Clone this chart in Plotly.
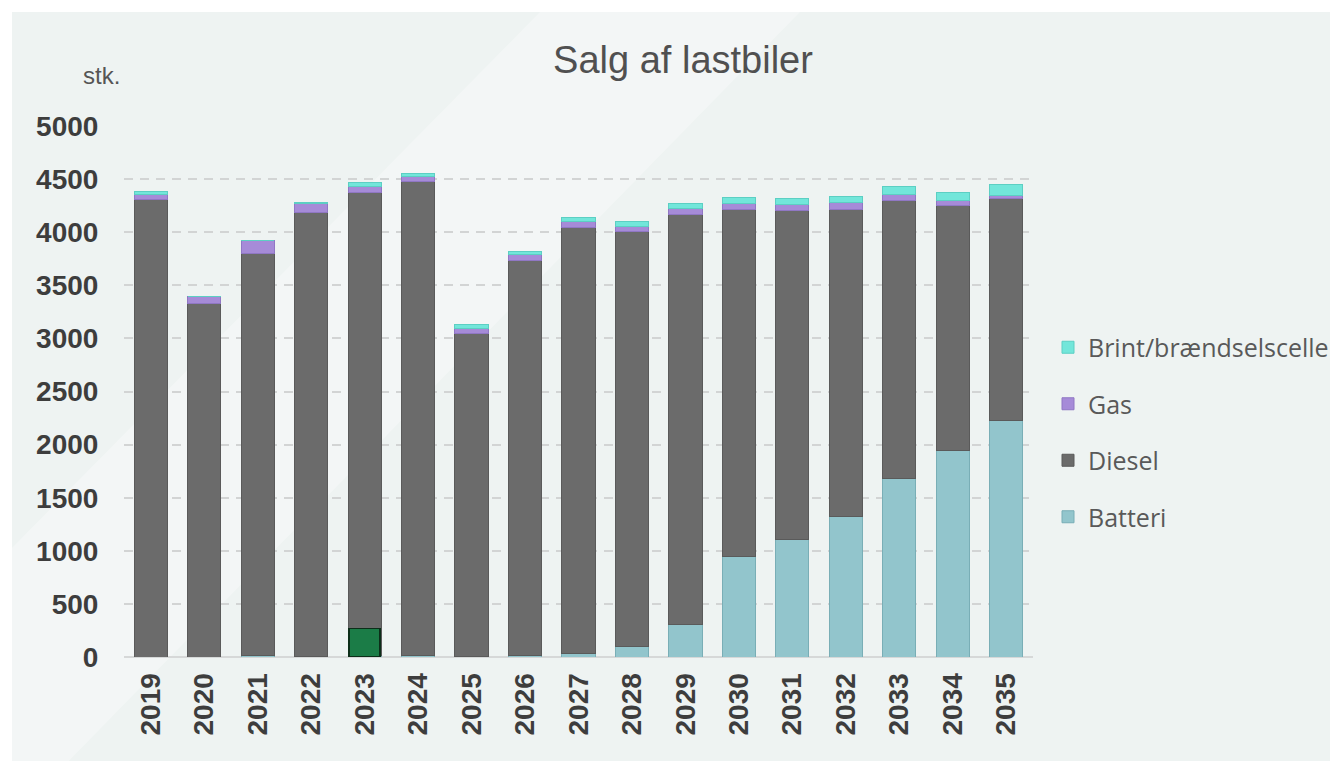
import plotly.graph_objects as go

years = list(range(2019, 2036))
batteri = [0, 0, 10, 5, 15, 10, 5, 10, 35, 95, 310, 950, 1110, 1320, 1685, 1940, 2230]
diesel = [4310, 3333, 3785, 4185, 4363, 4463, 3045, 3728, 4014, 3907, 3861, 3268, 3090, 2898, 2618, 2316, 2083]
gas = [45, 57, 130, 85, 55, 47, 47, 50, 56, 55, 55, 55, 65, 65, 50, 47, 37]
brint = [25, 0, 0, 5, 35, 37, 38, 35, 38, 45, 45, 55, 57, 57, 75, 75, 95]
highlight_year = [2023]
highlight_value = [270]
y_ticks = [0, 500, 1000, 1500, 2000, 2500, 3000, 3500, 4000, 4500, 5000]

OFF = 8  # page body margin
W, H = 1338, 761
L, T = 124 - OFF, 126 - OFF
R = W - (1033 - OFF)
B = H - (657 - OFF)
pw, ph = W - L - R, H - T - B


def px(xs):
    return (xs - OFF - L) / pw


def py(ys):
    return (H - B - (ys - OFF)) / ph


BW = 0.62
series = [
    ("Batteri", batteri, "#92c5cc", "#79aeb6", 4),
    ("Diesel", diesel, "#6b6b6b", "#5a5a5a", 3),
    ("Gas", gas, "#a68bd8", "#9077c4", 2),
    ("Brint/brændselscelle", brint, "#72e6da", "#5ccfc3", 1),
]

fig = go.Figure()
for name, vals, col, edge, rank in series:
    fig.add_trace(go.Bar(
        x=years, y=vals, name=name, width=BW, legendgroup=name, legendrank=rank,
        marker=dict(color=col, line=dict(color=edge, width=1)),
    ))

fig.add_trace(go.Bar(
    x=highlight_year, y=highlight_value, xaxis="x2", width=0.58, showlegend=False,
    marker=dict(color="#1b7c47", line=dict(color="#0c2e19", width=1.5)),
))

fig.update_layout(
    width=W, height=H,
    margin=dict(l=L, r=R, t=T, b=B),
    barmode="stack",
    paper_bgcolor="white",
    plot_bgcolor="rgba(0,0,0,0)",
    font=dict(family="Liberation Sans, Arial, sans-serif", color="#404040"),
    title=dict(text="Salg af lastbiler", x=(683 - OFF) / W, xanchor="center", xref="container",
               y=1 - (60 - OFF) / H, yanchor="middle", yref="container",
               font=dict(size=38, color="#505050", family="Liberation Sans, Arial, sans-serif")),
    xaxis=dict(range=[2018.5, 2035.5], tickmode="array", tickvals=years, ticktext=[str(y) for y in years],
               tickangle=-90, tickfont=dict(size=28, color="#3d3d3d", family="Liberation Sans, Arial, sans-serif", weight="bold"),
               ticks="outside", ticklen=4, tickcolor="rgba(0,0,0,0)", showgrid=False, zeroline=False,
               showline=False),
    xaxis2=dict(range=[2018.5, 2035.5], overlaying="x", visible=False),
    yaxis=dict(range=[0, 5000], tickvals=y_ticks, tickfont=dict(size=28, color="#3d3d3d", weight="bold"),
               ticks="outside", ticklen=19, tickcolor="rgba(0,0,0,0)",
               showgrid=True, gridcolor="#d2d4d4", griddash="9px,7px", gridwidth=2,
               zeroline=True, zerolinecolor="#d6d8d8", zerolinewidth=2),
    legend=dict(x=px(1048), xanchor="left", y=py(432), yanchor="middle", traceorder="grouped",
                tracegroupgap=21, font=dict(size=25, color="#595959", family="Open Sans, sans-serif"),
                bgcolor="rgba(0,0,0,0)", itemwidth=30),
    showlegend=True,
)

fig.add_shape(type="rect", xref="paper", yref="paper", x0=px(12), x1=px(W + 20), y0=py(H + 20), y1=py(12),
              fillcolor="#eef3f2", line=dict(width=0), layer="below")
fig.add_shape(type="path", xref="paper", yref="paper",
              path=f"M {px(540)} {py(12)} L {px(800)} {py(12)} L {px(60)} {py(770)} L {px(0)} {py(770)} L {px(0)} {py(560)} Z",
              fillcolor="rgba(255,255,255,0.30)", line=dict(width=0), layer="below")

fig.add_annotation(text="stk.", xref="paper", yref="paper", x=px(101), y=py(75), xanchor="center",
                   yanchor="middle", showarrow=False, font=dict(size=24, color="#555555"))

fig.write_html("out.html")
